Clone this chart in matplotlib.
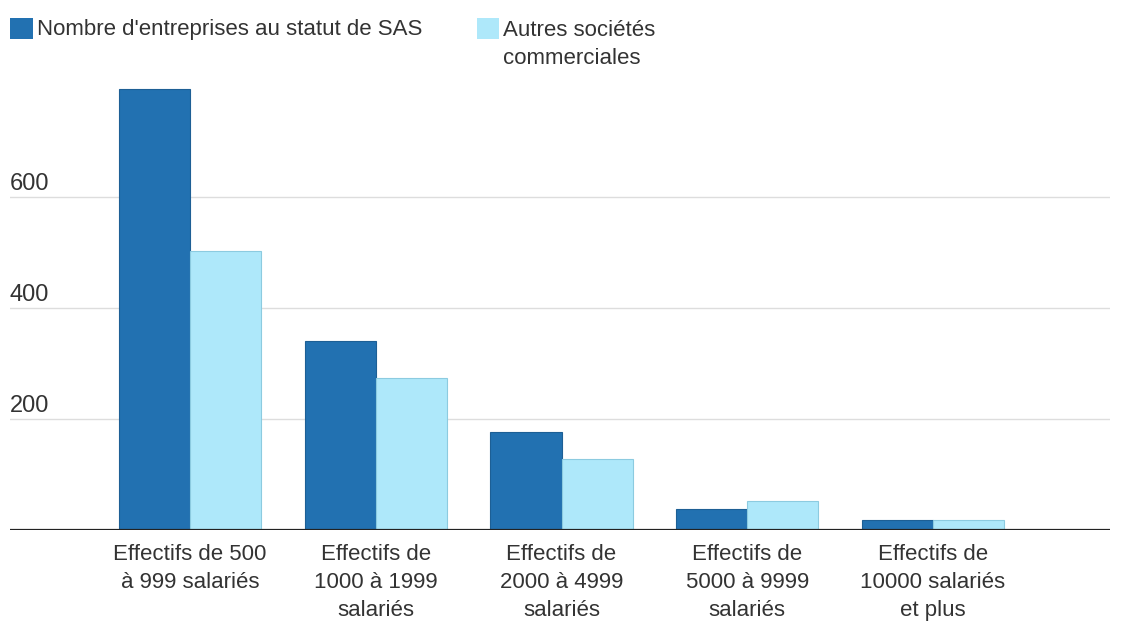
import numpy as np
import matplotlib.pyplot as plt
import matplotlib.transforms as mtransforms

# Data
categories = ["Effectifs de 500\nà 999 salariés",
              "Effectifs de\n1000 à 1999\nsalariés",
              "Effectifs de\n2000 à 4999\nsalariés",
              "Effectifs de\n5000 à 9999\nsalariés",
              "Effectifs de\n10000 salariés\net plus"]
sas = [794, 340, 176, 38, 17.5]
autres = [502, 274, 128, 52, 17.5]
yticks = [200, 400, 600]
labels = ["Nombre d'entreprises au statut de SAS", "Autres sociétés\ncommerciales"]

plt.rcParams['font.family'] = ['Liberation Sans', 'DejaVu Sans']
fs = 16

fig = plt.figure(figsize=(11.38, 6.25), dpi=100)
ax = fig.add_axes([10/1138, 95/625, 1100/1138, 450/625])

x = np.arange(len(categories))
w = 71/185.75
ax.bar(x - w/2, sas, w, color='#2271b1', edgecolor='#1d5f95', linewidth=0.8)
ax.bar(x + w/2, autres, w, color='#aee8fa', edgecolor='#8ccbe0', linewidth=0.8)

ax.set_xlim((10-190)/185.75, (1110-190)/185.75)
ax.set_ylim(0, 450/0.5556)

for s in ax.spines.values():
    s.set_visible(False)
ax.axhline(0, color='#222222', linewidth=1.6, zorder=5)
trans = mtransforms.blended_transform_factory(ax.transAxes, ax.transData)
for yt in yticks:
    ax.axhline(yt, color='#dddddd', linewidth=1, zorder=0)
    ax.text(0, yt + 3, str(yt), transform=trans,
            fontsize=17, color='#333333', ha='left', va='bottom')

ax.set_yticks([])
ax.set_xticks(x)
ax.set_xticklabels(categories, fontsize=fs, color='#333333', linespacing=1.45)
ax.tick_params(axis='x', length=0, pad=10)

# legend
fig.patches.append(plt.Rectangle((10/1138, 1 - 39/625), 23/1138, 21/625, transform=fig.transFigure,
                                 facecolor='#2271b1', edgecolor='none'))
fig.text(37/1138, 1 - 29/625, labels[0], fontsize=fs, color='#333333', va='center')
fig.patches.append(plt.Rectangle((477/1138, 1 - 39/625), 22/1138, 21/625, transform=fig.transFigure,
                                 facecolor='#aee8fa', edgecolor='none'))
fig.text(503/1138, 1 - 20/625, labels[1], fontsize=fs, color='#333333', va='top', linespacing=1.45)

fig.savefig('out.png', dpi=100)
